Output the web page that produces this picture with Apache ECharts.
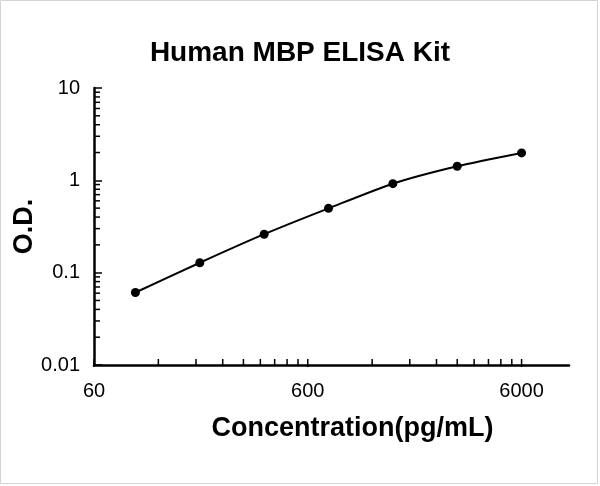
<!DOCTYPE html>
<html>
<head>
<meta charset="utf-8">
<script src="https://cdn.jsdelivr.net/npm/echarts@6/dist/echarts.min.js"></script>
<style>
  html, body { margin: 0; padding: 0; background: #fff; }
  #chart { width: 600px; height: 486px; }
</style>
</head>
<body>
<div id="chart"></div>
<script>
// standard curve points (pg/mL vs O.D.)
const concentrations = [93.75, 187.5, 375, 750, 1500, 3000, 6000];
const odValues = [0.061, 0.128, 0.261, 0.497, 0.92, 1.42, 1.98];

// axis ticks
const xTickLabels = [60, 600, 6000];
const yTickLabels = [0.01, 0.1, 1, 10];
const xMin = 60, xMax = 10000;
const yMin = 0.01, yMax = 10;

// minor ticks: multiples of each decade start
const xMinorTicks = [];
[60, 600, 6000].forEach(d => {
    for (let k = 2; k <= 9; k++) if (d * k <= xMax) xMinorTicks.push(d * k);
});
const yMinorTicks = [];
[0.01, 0.1, 1].forEach(d => {
    for (let k = 2; k <= 9; k++) yMinorTicks.push(+(d * k).toFixed(3));
});

const font = '"Liberation Sans", Arial, sans-serif';
const chart = echarts.init(document.getElementById('chart'));

const option = {
    backgroundColor: '#fff',
    animation: false,
    title: {
        text: 'Human MBP ELISA Kit',
        left: 'center',
        top: 34,
        textStyle: { fontFamily: font, fontSize: 28, fontWeight: 'bold', color: '#000' }
    },
    graphic: [{
        type: 'rect',
        shape: { x: 0.5, y: 0.5, width: 597, height: 483 },
        style: { fill: 'none', stroke: '#d4d4d4', lineWidth: 1 },
        silent: true
    }],
    grid: { left: 94, right: 31, top: 88, bottom: 121, containLabel: false, outerBoundsMode: 'none' },
    xAxis: {
        type: 'log',
        min: xMin,
        max: xMax,
        name: 'Concentration(pg/mL)',
        nameLocation: 'middle',
        nameGap: 50,
        nameMoveOverlap: false,
        nameTextStyle: {
            fontFamily: font, fontSize: 27, fontWeight: 'bold', color: '#000',
            padding: [0, 0, 0, 42]
        },
        axisLine: { lineStyle: { color: '#000', width: 2.5 } },
        axisTick: { show: false },
        axisLabel: { show: false },
        splitLine: { show: false }
    },
    yAxis: {
        type: 'log',
        min: yMin,
        max: yMax,
        name: 'O.D.',
        nameLocation: 'middle',
        nameGap: 56,
        nameMoveOverlap: false,
        nameTextStyle: { fontFamily: font, fontSize: 27, fontWeight: 'bold', color: '#000' },
        axisLine: { show: true, lineStyle: { color: '#000', width: 2.5 } },
        axisTick: { show: true, inside: true, length: 8, lineStyle: { color: '#000', width: 1.5 } },
        axisLabel: {
            margin: 14,
            fontFamily: font,
            fontSize: 20,
            color: '#000',
            formatter: v => String(+v.toPrecision(3))
        },
        splitLine: { show: false }
    },
    series: [
        {
            // x axis ticks + labels drawn on the log scale
            type: 'custom',
            silent: true,
            z: 1,
            data: xMinorTicks.map(v => [v, 0]).concat(xTickLabels.map(v => [v, 1])),
            renderItem: (params, api) => {
                const v = api.value(0);
                const major = api.value(1) === 1;
                const p = api.coord([v, yMin]);
                const tick = {
                    type: 'line',
                    shape: { x1: p[0], y1: p[1] + (major ? 2 : 0), x2: p[0], y2: p[1] - 6 },
                    style: { stroke: '#000', lineWidth: 1.5 }
                };
                if (!major) return tick;
                return {
                    type: 'group',
                    children: [tick, {
                        type: 'text',
                        x: p[0],
                        y: p[1] + 26,
                        style: {
                            text: String(v),
                            align: 'center',
                            verticalAlign: 'middle',
                            fontFamily: font,
                            fontSize: 20,
                            fill: '#000'
                        }
                    }]
                };
            }
        },
        {
            // y axis minor ticks
            type: 'custom',
            silent: true,
            z: 1,
            data: yMinorTicks.map(v => [xMin, v]),
            renderItem: (params, api) => {
                const p = api.coord([xMin, api.value(1)]);
                return {
                    type: 'line',
                    shape: { x1: p[0], y1: p[1], x2: p[0] + 6, y2: p[1] },
                    style: { stroke: '#000', lineWidth: 1.5 }
                };
            }
        },
        {
            type: 'line',
            data: concentrations.map((c, i) => [c, odValues[i]]),
            smooth: 0.25,
            symbol: 'circle',
            symbolSize: 9,
            itemStyle: { color: '#000' },
            lineStyle: { color: '#000', width: 2 },
            z: 3
        }
    ]
};

chart.setOption(option);
</script>
</body>
</html>
